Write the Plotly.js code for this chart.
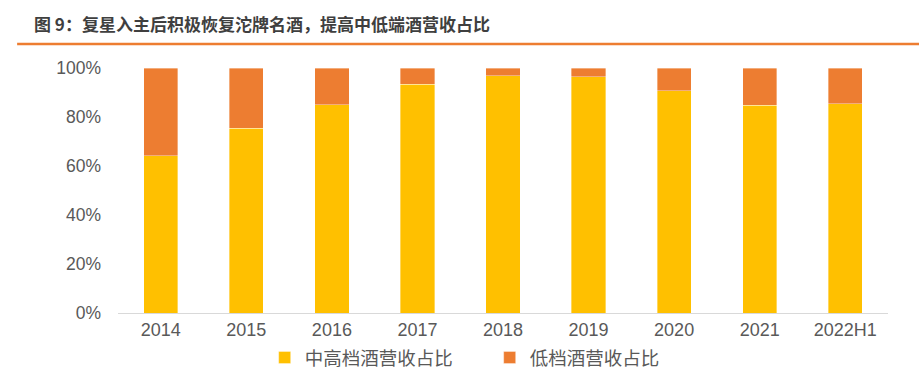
<!DOCTYPE html>
<html><head><meta charset="utf-8">
<script src="https://cdn.plot.ly/plotly-3.0.1.min.js"></script>
<style>body{margin:0;background:#fff}#chart{width:919px;height:380px}</style>
</head><body><div id="chart"></div>
<script>
const categories = ['2014','2015','2016','2017','2018','2019','2020','2021','2022H1'];
const midHighShare = [64.1, 75.4, 85.0, 93.3, 96.9, 96.5, 90.7, 84.8, 85.4];
const lowShare = midHighShare.map(v => +(100 - v).toFixed(1));
const seriesNames = ['中高档酒营收占比', '低档酒营收占比'];
const yTicks = [0, 20, 40, 60, 80, 100];

const fontFam = '"Liberation Sans", Arial, "Noto Sans CJK SC", sans-serif';
const traces = [
  {type:'bar', x:categories, y:midHighShare, name:seriesNames[0], marker:{color:'#FFC000', line:{color:'rgba(255,255,255,0.6)', width:0.6}}, width:0.4},
  {type:'bar', x:categories, y:lowShare, name:seriesNames[1], marker:{color:'#ED7D31', line:{color:'rgba(255,255,255,0.6)', width:0.6}}, width:0.4}
];
const layout = {
  width:919, height:380, barmode:'stack',
  margin:{l:118, r:31, t:68, b:67, autoexpand:false},
  paper_bgcolor:'#fff', plot_bgcolor:'#fff',
  font:{family:fontFam, color:'#595959', size:18},
  showlegend:true,
  title:{text:'<b>图 9：复星入主后积极恢复沱牌名酒，提高中低端酒营收占比</b>', xref:'container', x:0.037, xanchor:'left', yref:'container', y:0.934, yanchor:'middle', font:{size:17, color:'#3F3F3F', family:'"Noto Sans CJK SC", sans-serif'}},
  legend:{orientation:'h', xref:'container', x:0.288, xanchor:'left', yref:'container', y:0.058, yanchor:'middle', font:{size:18.5, family:'"Noto Sans CJK SC", sans-serif', color:'#595959'}, itemwidth:30, entrywidth:180, entrywidthmode:'pixels', traceorder:'normal'},
  xaxis:{type:'category', showline:true, linecolor:'#D9D9D9', linewidth:1, ticks:'', showgrid:false, tickfont:{size:18}, zeroline:false},
  yaxis:{range:[0,100], tickvals:yTicks, ticktext:yTicks.map(v=>v+'%'), showgrid:false, zeroline:false, showline:false, ticks:'', tickfont:{size:17.5}, ticklabelstandoff:16},
  shapes:[{type:'line', xref:'paper', yref:'paper', x0:-0.131, x1:1.05, y0:1.098, y1:1.098, line:{color:'#ED7D31', width:2.5}}]
};
Plotly.newPlot('chart', traces, layout, {displayModeBar:false, staticPlot:true});
</script></body></html>
